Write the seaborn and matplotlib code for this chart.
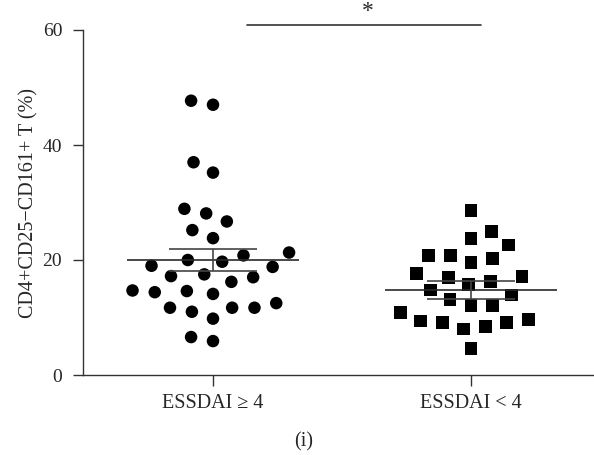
import matplotlib
matplotlib.use("Agg")
import matplotlib.pyplot as plt
import seaborn as sns
import pandas as pd
import numpy as np

categories = ["ESSDAI \u2265 4", "ESSDAI < 4"]
high_values = [47.7, 47.0, 37.0, 35.2, 28.9, 28.1, 26.7, 25.2, 23.8, 21.3, 20.8,
               20.0, 19.7, 19.0, 18.8, 17.5, 17.2, 17.0, 16.2, 14.4, 14.1, 14.6,
               14.7, 12.5, 11.7, 11.0, 11.7, 11.7, 9.8, 5.9, 6.6]
low_values = [28.6, 24.9, 23.7, 22.6, 20.8, 20.8, 20.2, 19.5, 17.6, 17.1, 16.9,
              16.2, 15.7, 14.8, 13.9, 13.1, 12.1, 12.1, 10.9, 9.1, 9.4, 8.0,
              9.6, 9.1, 8.4, 4.6]
group_means = [20.0, 14.8]
group_sem = [1.9, 1.55]
y_ticks = [0, 20, 40, 60]
ylabel = "CD4+CD25\u2212CD161+ T (%)"
caption = "(i)"

sns.set_style("ticks")
plt.rcParams["font.family"] = ["Liberation Serif", "DejaVu Serif"]

df = pd.DataFrame({
    "group": [categories[0]] * len(high_values) + [categories[1]] * len(low_values),
    "value": high_values + low_values,
})

fig = plt.figure(figsize=(5.94, 4.55), dpi=100)
ax = fig.add_axes([83 / 594, 1 - 375 / 455, (594 - 83) / 594, (375 - 30) / 455])

sns.swarmplot(data=df[df.group == categories[0]], x="group", y="value", order=categories,
              color="black", marker="o", size=9.0, linewidth=6.3, ax=ax)
sns.swarmplot(data=df[df.group == categories[1]], x="group", y="value", order=categories,
              color="black", marker="s", size=9.2, linewidth=5.8, ax=ax)
for coll in ax.collections:
    coll.set_edgecolor("none")

for i, (m, s) in enumerate(zip(group_means, group_sem)):
    ax.hlines(m, i - 0.335, i + 0.335, color="#2a2a2a", lw=1.2, zorder=5)
    ax.hlines([m - s, m + s], i - 0.17, i + 0.17, color="#444444", lw=1.2, zorder=5)
    ax.vlines(i, m - s, m + s, color="#444444", lw=1.2, zorder=5)

ax.set_xlim(-0.504, 1.477)
ax.set_ylim(0, 60)
ax.set_yticks(y_ticks)
ax.set_yticklabels([str(t) for t in y_ticks], fontsize=14)
ax.set_xticks([0, 1])
ax.set_xticklabels(categories, fontsize=14.5)
ax.set_xlabel("")
ax.set_ylabel(ylabel, fontsize=14.5, labelpad=3)
for sp in ["top", "right"]:
    ax.spines[sp].set_visible(False)
for sp in ["left", "bottom"]:
    ax.spines[sp].set_color("#333333")
    ax.spines[sp].set_linewidth(1.0)
ax.tick_params(axis="y", length=7, width=1.0, color="#333333", pad=8)
ax.tick_params(axis="x", length=8, width=1.0, color="#333333", pad=6)

# significance bar
ax.plot([0.132, 1.039], [60.9, 60.9], color="#333333", lw=1.2, clip_on=False)
ax.text(0.6, 61.4, "*", ha="center", va="bottom", fontsize=17, clip_on=False)

fig.text(304 / 594, 1 - 442 / 455, caption, ha="center", va="center", fontsize=14.5)

fig.savefig("out.png", dpi=100)
